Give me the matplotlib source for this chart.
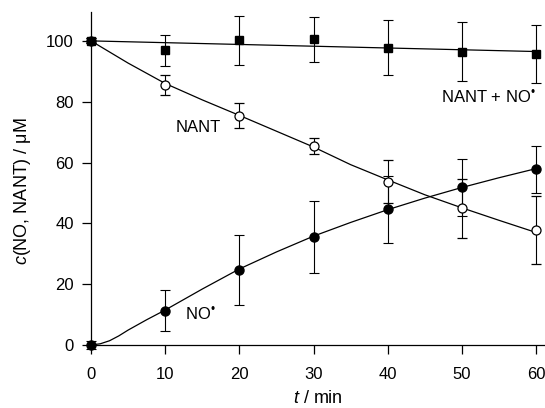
import matplotlib
import matplotlib.pyplot as plt

matplotlib.use("Agg")

# measured points (t in min, concentrations in uM)
t_pts = [0, 10, 20, 30, 40, 50, 60]

total_vals = [100.0, 97.0, 100.2, 100.5, 97.8, 96.5, 95.7]
total_err = [0.8, 5.1, 8.0, 7.4, 9.0, 9.6, 9.5]

nant_vals = [100.0, 85.5, 75.4, 65.5, 53.7, 44.9, 37.8]
nant_err = [0.8, 3.3, 4.2, 2.6, 7.0, 9.7, 11.2]

no_vals = [0.0, 11.3, 24.7, 35.4, 44.6, 51.8, 57.8]
no_err = [1.3, 6.8, 11.5, 11.8, 11.0, 9.3, 7.7]

# fitted curves
total_fit_t = [0, 60]
total_fit = [100.0, 96.5]

nant_fit_t = [0, 5, 10, 15, 20, 25, 30, 35, 40, 45, 50, 55, 60]
nant_fit = [100.0, 92.7, 86.0, 80.6, 75.5, 70.3, 65.1, 59.3, 54.3, 49.4, 45.1, 41.0, 37.0]

no_fit_t = [0, 1.25, 2.5, 3.75, 5, 7.5, 10, 15, 20, 25, 30, 35, 40, 45, 50, 55, 60]
no_fit = [0.0, 0.4, 1.4, 3.0, 4.9, 8.3, 11.5, 18.4, 25.0, 30.6, 35.8, 40.3, 44.5, 48.3, 51.8, 55.0, 58.0]

plt.rcParams["font.family"] = "Liberation Sans"
plt.rcParams["mathtext.fontset"] = "custom"
plt.rcParams["mathtext.rm"] = "Liberation Sans"
plt.rcParams["mathtext.it"] = "Liberation Sans:italic"
plt.rcParams["font.size"] = 12

fig = plt.figure(figsize=(5.45, 4.08), dpi=100)
ax = fig.add_axes([91 / 545, 63 / 408, 454 / 545, 333 / 408])

lw = 0.9
ax.plot(total_fit_t, total_fit, color="black", lw=lw, clip_on=False)
ax.plot(nant_fit_t, nant_fit, color="black", lw=lw, clip_on=False)
ax.plot(no_fit_t, no_fit, color="black", lw=lw, clip_on=False)

ebar = dict(ecolor="black", elinewidth=0.8, capsize=3.6, capthick=0.8, ls="none", clip_on=False)
ax.errorbar(t_pts, nant_vals, yerr=nant_err, fmt="o", ms=6.5, mfc="white",
            mec="black", mew=0.9, zorder=3, **ebar)
ax.errorbar(t_pts, no_vals, yerr=no_err, fmt="o", ms=6.5, mfc="black",
            mec="black", zorder=3, **ebar)
ax.errorbar(t_pts, total_vals, yerr=total_err, fmt="s", ms=5.2, mfc="black",
            mec="black", zorder=4, **ebar)

ax.text(14.5, 71.4, "NANT", ha="center", va="center")
ax.text(53.6, 81.6, "NANT + NO$^{•}$", ha="center", va="center")
ax.text(14.8, 10.4, "NO$^{•}$", ha="center", va="center")

ax.set_xlim(0, 61.2)
ax.set_ylim(0, 109.5)
ax.set_xticks(t_pts)
ax.set_yticks([0, 20, 40, 60, 80, 100])
ax.tick_params(direction="out", length=6.5, width=0.9)
ax.tick_params(axis="x", pad=9)
ax.tick_params(axis="y", pad=6)

for side in ("top", "right"):
    ax.spines[side].set_visible(False)
for side in ("left", "bottom"):
    ax.spines[side].set_linewidth(0.9)

ax.set_xlabel(r"$t$ / min", fontsize=13)
ax.set_ylabel(r"$c$(NO, NANT) / μM", fontsize=13)
ax.xaxis.set_label_coords(0.5, -0.136)
ax.yaxis.set_label_coords(-0.128, 0.462)

fig.savefig("out.png", dpi=100)
plt.close(fig)
